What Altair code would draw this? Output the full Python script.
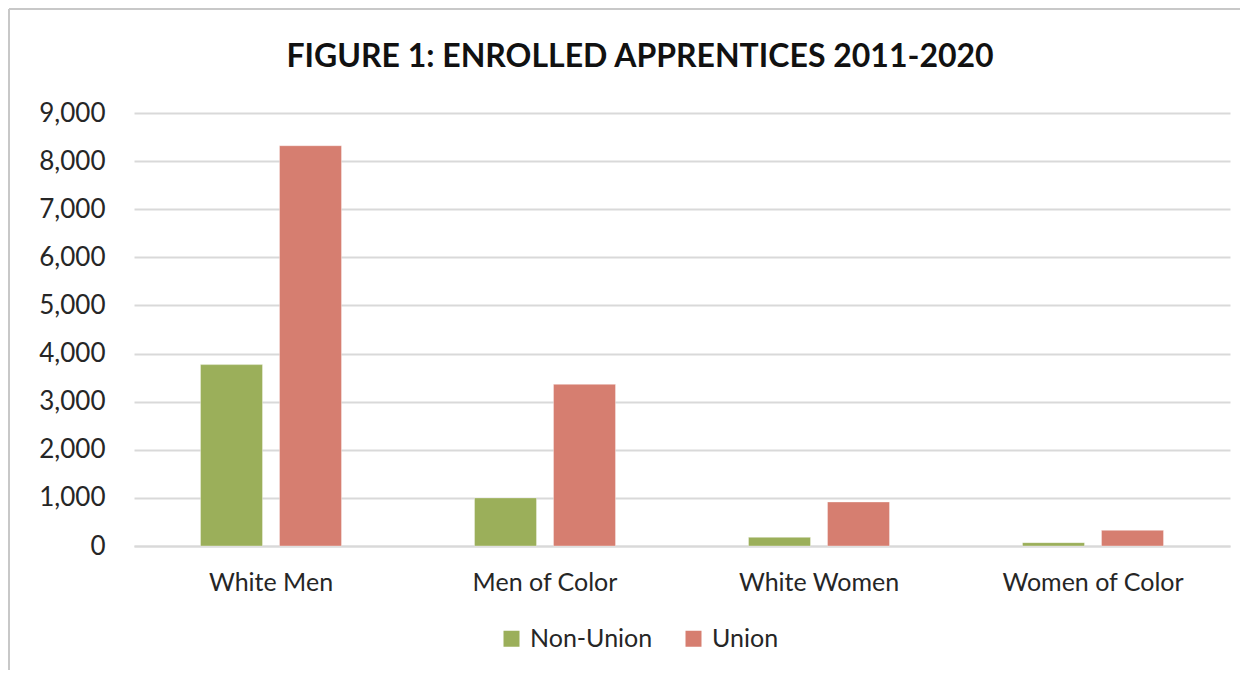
import altair as alt
import pandas as pd

groups = ["White Men", "Men of Color", "White Women", "Women of Color"]
non_union = [3770, 1000, 180, 70]
union = [8320, 3360, 915, 325]
series = ["Non-Union", "Union"]
colors = ["#9BAF5A", "#D67E70"]
y_ticks = [0, 1000, 2000, 3000, 4000, 5000, 6000, 7000, 8000, 9000]

rows = []
for g, a, b in zip(groups, non_union, union):
    rows.append({"group": g, "series": series[0], "value": a})
    rows.append({"group": g, "series": series[1], "value": b})
df = pd.DataFrame(rows)

FONT = "Lato"

bars = alt.Chart(df).mark_bar(stroke="#ffffff", strokeOpacity=0.35, strokeWidth=1).encode(
    x=alt.X("group:N", sort=groups, title=None,
            scale=alt.Scale(paddingInner=0.4854, paddingOuter=0.2427),
            axis=alt.Axis(labelAngle=0, labelFontSize=25, labelPadding=24, labelColor="#262626",
                          ticks=False, domain=True, domainColor="#d9d9d9", domainWidth=2,
                          labelFont=FONT, labelLimit=0)),
    xOffset=alt.XOffset("series:N", sort=series, scale=alt.Scale(paddingInner=0.215)),
    y=alt.Y("value:Q", title=None,
            scale=alt.Scale(domain=[0, 9000], nice=False),
            axis=alt.Axis(values=y_ticks, format=",.0f", labelFontSize=26, labelPadding=29,
                          labelColor="#262626", ticks=False, domain=False,
                          gridColor="#d9d9d9", gridWidth=2, labelFont=FONT)),
    color=alt.Color("series:N", sort=series,
                    scale=alt.Scale(domain=series, range=colors),
                    legend=alt.Legend(title=None, orient="none", direction="horizontal",
                                      legendX=365, legendY=513, symbolType="square",
                                      symbolSize=256, symbolStrokeWidth=0,
                                      labelFontSize=25, labelColor="#262626", labelFont=FONT,
                                      columnPadding=28, labelOffset=6)),
)

frame = alt.Chart(pd.DataFrame({"k": [0]})).mark_rule(color="#c8c8c8", strokeWidth=2, clip=False).encode(
    x=alt.value(-125), x2=alt.value(1126), y=alt.value(-104)
)
frame_left = alt.Chart(pd.DataFrame({"k": [0]})).mark_rule(color="#c8c8c8", strokeWidth=2, clip=False).encode(
    x=alt.value(-125), y=alt.value(-104), y2=alt.value(570)
)

chart = alt.layer(bars, frame, frame_left).properties(
    width=1096,
    height=433,
    autosize=alt.AutoSizeParams(type="none"),
    padding={"left": 126, "top": 105, "right": 10, "bottom": 124},
    title=alt.TitleParams("FIGURE 1: ENROLLED APPRENTICES 2011-2020", fontSize=32, font=FONT,
                          fontWeight="bold", color="#111111", anchor="middle", dx=-42,
                          offset=-66),
).configure_view(stroke=None)

chart.save("out.html", embed_options={"renderer": "svg", "actions": False})
